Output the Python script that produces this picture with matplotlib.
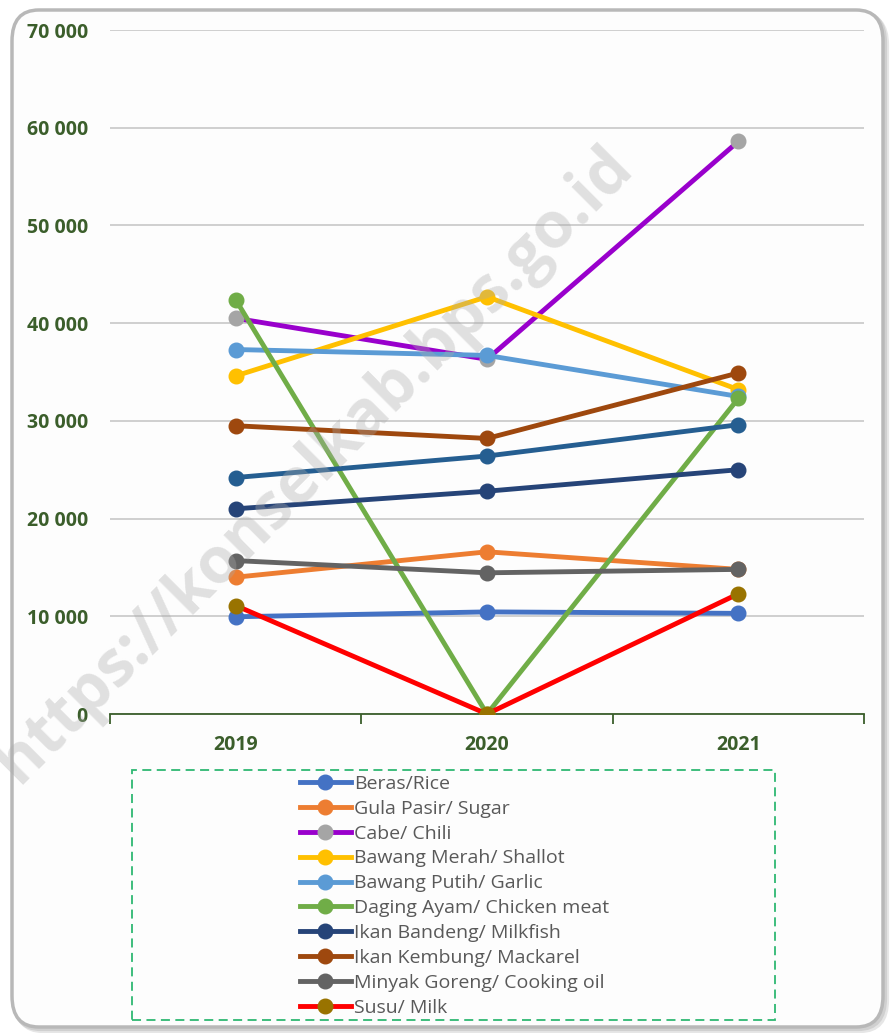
import matplotlib
matplotlib.use("Agg")
import matplotlib.pyplot as plt
from matplotlib.lines import Line2D
from matplotlib.patches import FancyBboxPatch, Rectangle

plt.rcParams['font.family'] = ['Open Sans', 'DejaVu Sans']

years = ['2019', '2020', '2021']

rice = [9950, 10450, 10300]
sugar = [14000, 16600, 14800]
chili = [40500, 36300, 58600]
shallot = [34600, 42700, 33200]
garlic = [37300, 36700, 32500]
chicken = [42400, 0, 32300]
milkfish = [21000, 22800, 25000]
mackerel = [29500, 28200, 34900]
cooking_oil = [15700, 14450, 14800]
milk = [11100, 0, 12300]
egg = [24200, 26400, 29600]   # 11th series, not shown in the legend

labels = ['Beras/Rice', 'Gula Pasir/ Sugar', 'Cabe/ Chili', 'Bawang Merah/ Shallot',
          'Bawang Putih/ Garlic', 'Daging Ayam/ Chicken meat', 'Ikan Bandeng/ Milkfish',
          'Ikan Kembung/ Mackarel', 'Minyak Goreng/ Cooking oil', 'Susu/ Milk']
series = [rice, sugar, chili, shallot, garlic, chicken, milkfish, mackerel, cooking_oil, milk]
line_colors = ['#4472C4', '#ED7D31', '#9900CC', '#FFC000', '#5B9BD5', '#70AD47',
               '#264478', '#9E480E', '#636363', '#FF0000']
marker_colors = ['#4472C4', '#ED7D31', '#A5A5A5', '#FFC000', '#5B9BD5', '#70AD47',
                 '#264478', '#9E480E', '#636363', '#997300']

W, H = 893, 1033
LW, MS = 3.5, 10.5
fig = plt.figure(figsize=(W / 100, H / 100), dpi=100)
fig.patch.set_facecolor('white')

# rounded frame with soft shadow (kept behind the axes)
for off, col in [(4, '#E6E6E6'), (2, '#D0D0D0')]:
    fig.patches.append(FancyBboxPatch((12 / W + off / W, 6 / H - off / H), (W - 22) / W, (H - 16) / H,
                                      boxstyle='round,pad=0,rounding_size=0.03', transform=fig.transFigure,
                                      facecolor='none', edgecolor=col, lw=3, zorder=-2))
fig.patches.append(FancyBboxPatch((12 / W, 6 / H), (W - 22) / W, (H - 16) / H,
                                  boxstyle='round,pad=0,rounding_size=0.03', transform=fig.transFigure,
                                  facecolor='#FDFDFD', edgecolor='#B8B8B8', lw=2.5, zorder=-1))

ax = fig.add_axes([110 / W, 1 - 714 / H, (864 - 110) / W, (714 - 30) / H])
ax.set_facecolor('none')

x = list(range(len(years)))
for vals, lc, mc in zip(series[:6], line_colors[:6], marker_colors[:6]):
    ax.plot(x, vals, color=lc, lw=LW, marker='o', ms=MS, mfc=mc, mec=mc, zorder=3)
ax.plot(x, egg, color='#255E91', lw=LW, marker='o', ms=MS, mfc='#255E91', mec='#255E91', zorder=3)
for vals, lc, mc in zip(series[6:], line_colors[6:], marker_colors[6:]):
    ax.plot(x, vals, color=lc, lw=LW, marker='o', ms=MS, mfc=mc, mec=mc, zorder=3)

ax.set_xlim(-0.5, 2.5)
ax.set_ylim(0, 70000)
ax.set_yticks(range(0, 70001, 10000))
ax.set_yticklabels(['0' if v == 0 else f'{v // 1000} 000' for v in range(0, 70001, 10000)])
ax.set_xticks(x)
ax.set_xticklabels(years)
ax.set_xticks([-0.5, 0.5, 1.5, 2.5], minor=True)
ax.grid(axis='y', color='#C8C8C8', lw=1.2, zorder=0)
ax.set_axisbelow(True)
for s in ['top', 'right', 'left']:
    ax.spines[s].set_visible(False)
ax.spines['bottom'].set_color('#3B5E2B')
ax.spines['bottom'].set_linewidth(1.3)
ax.tick_params(axis='y', length=0, pad=16, labelsize=14, labelcolor='#3B5E2B')
ax.tick_params(axis='x', which='major', length=0, pad=15, labelsize=14, labelcolor='#3B5E2B')
ax.tick_params(axis='x', which='minor', length=7, width=1.3, color='#3B5E2B', direction='out')
for t in ax.get_yticklabels() + ax.get_xticklabels():
    t.set_fontweight('bold')

# watermark
fig.text(315 / W, 1 - 465 / H, 'https://konselkab.bps.go.id', rotation=45, ha='center', va='center',
         fontsize=46, fontweight='bold', color='#AAAAAA', alpha=0.35, zorder=5)

# legend
handles = [Line2D([0], [0], color=lc, lw=LW, marker='o', ms=MS, mfc=mc, mec=mc)
           for lc, mc in zip(line_colors, marker_colors)]
leg = fig.legend(handles, labels, loc='upper left', bbox_to_anchor=(290 / W, 1 - 765 / H),
                 frameon=False, fontsize=14, handlelength=2.65, handletextpad=0.15,
                 labelspacing=0.355, borderpad=0)
for t in leg.get_texts():
    t.set_color('#595959')
fig.patches.append(Rectangle((132 / W, 1 - 1020 / H), (775 - 132) / W, (1020 - 770) / H,
                             transform=fig.transFigure, facecolor='none', edgecolor='#2EB872',
                             lw=1.3, ls=(0, (5, 3))))

fig.savefig('out.png', dpi=100)
